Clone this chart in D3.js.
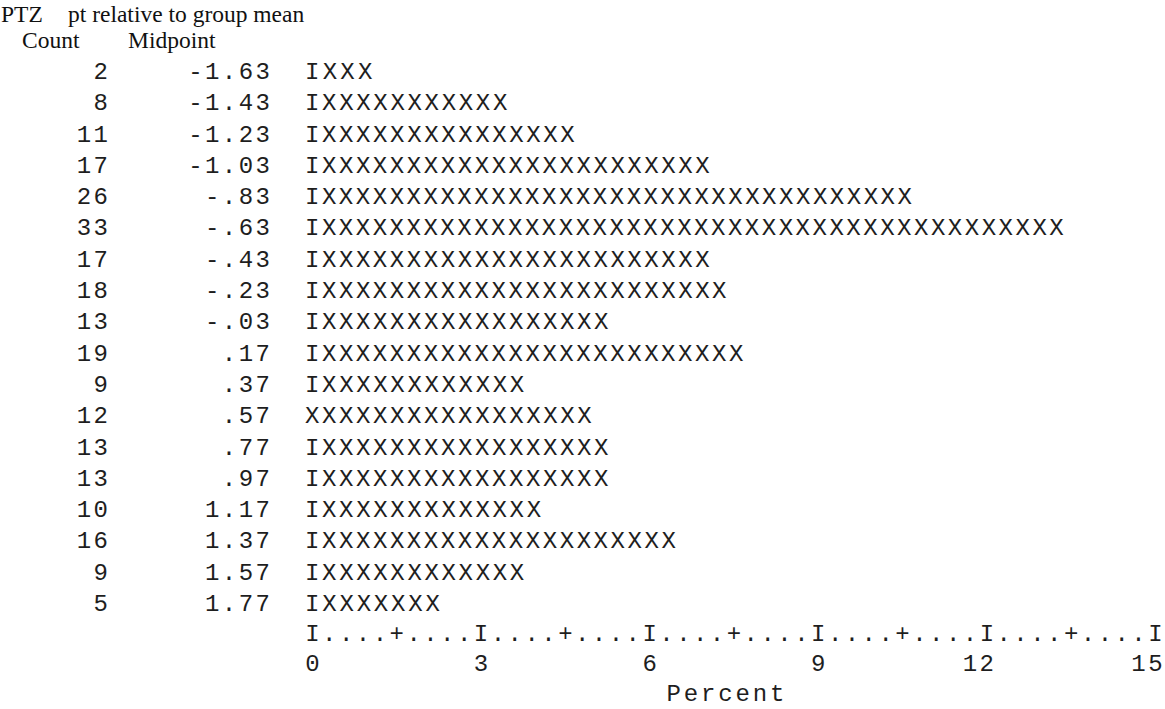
<!DOCTYPE html>
<html>
<head>
<meta charset="utf-8">
<script src="https://cdn.jsdelivr.net/npm/d3@7"></script>
<style>
  body { margin: 0; background: #fff; }
  .mono { font-family: "Liberation Mono", "DejaVu Sans Mono", monospace; font-size: 24px; fill: #1e1e1e; }
  .spaced { letter-spacing: 2.46px; }
  .serif { font-family: "Liberation Serif", "DejaVu Serif", serif; font-size: 23.5px; fill: #111; }
</style>
</head>
<body>
<div id="chart"></div>
<script>
// datos del histograma (salida de texto tipo SPSS)
var midpoints = ["-1.63", "-1.43", "-1.23", "-1.03", "-.83", "-.63", "-.43", "-.23", "-.03",
                 ".17", ".37", ".57", ".77", ".97", "1.17", "1.37", "1.57", "1.77"];
var counts = [2, 8, 11, 17, 26, 33, 17, 18, 13, 19, 9, 12, 13, 13, 10, 16, 9, 5];
// primer caracter de cada barra (en la fila .57 el original sale con X)
var leadChars = ["I","I","I","I","I","I","I","I","I","I","I","X","I","I","I","I","I","I"];
var tickValues = [0, 3, 6, 9, 12, 15];
var minorValues = [1.5, 4.5, 7.5, 10.5, 13.5];
var varName = "PTZ";
var varLabel = "pt relative to group mean";
var xTitle = "Percent";

var width = 1165, height = 709;
var cellW = 16.86;       // ancho de cada caracter
var x0 = 304;            // borde izquierdo de la primera columna de barras
var step = 0.3;          // porcentaje que vale cada caracter
var ls = 2.46;           // espaciado extra entre letras

var total = d3.sum(counts);

// escala x: porcentaje -> centro de la columna de caracteres
var x = d3.scaleLinear().domain([0, 15]).range([x0 + cellW / 2, x0 + 50 * cellW + cellW / 2]);
// escala y: una fila por punto medio
var y = d3.scalePoint().domain(midpoints).range([79, 611]);

var svg = d3.select("#chart").append("svg")
  .attr("width", width)
  .attr("height", height);

// cabecera
svg.append("text").attr("class", "serif").attr("x", 1).attr("y", 22).text(varName);
svg.append("text").attr("class", "serif").attr("x", 68).attr("y", 22).text(varLabel);
svg.append("text").attr("class", "serif").attr("x", 22).attr("y", 48).text("Count");
svg.append("text").attr("class", "serif").attr("x", 128).attr("y", 48).text("Midpoint");

var rows = midpoints.map(function(m, i) {
  return { mid: m, count: counts[i], lead: leadChars[i], pct: counts[i] / total * 100 };
});

var g = svg.append("g");

// columna de frecuencias
g.selectAll(".count").data(rows).enter().append("text")
  .attr("class", "mono spaced count")
  .attr("x", 108 + ls)
  .attr("y", function(d) { return y(d.mid); })
  .attr("text-anchor", "end")
  .text(function(d) { return d.count; });

// columna de puntos medios
g.selectAll(".mid").data(rows).enter().append("text")
  .attr("class", "mono spaced mid")
  .attr("x", 270 + ls)
  .attr("y", function(d) { return y(d.mid); })
  .attr("text-anchor", "end")
  .text(function(d) { return d.mid; });

// barras hechas de X
g.selectAll(".bar").data(rows).enter().append("text")
  .attr("class", "mono bar")
  .attr("x", x0 + 1)
  .attr("y", function(d) { return y(d.mid); })
  .each(function(d) {
    var n = Math.round((x(d.pct) - x(0)) / cellW);
    d3.select(this)
      .attr("textLength", (n + 1) * cellW)
      .attr("lengthAdjust", "spacing")
      .text(d.lead + "X".repeat(n));
  });

// eje de texto I....+....I
var axisY = 641;
var axisChars = d3.range(0, 51).map(function(i) {
  var v = +(i * step).toFixed(2);
  var c = ".";
  if (tickValues.indexOf(v) > -1) c = "I";
  else if (minorValues.indexOf(v) > -1) c = "+";
  return { v: v, c: c };
});
svg.append("g").selectAll("text").data(axisChars).enter().append("text")
  .attr("class", "mono")
  .attr("x", function(d) { return x(d.v); })
  .attr("y", axisY)
  .attr("text-anchor", "middle")
  .text(function(d) { return d.c; });

// etiquetas del eje alineadas a la derecha con su I
svg.append("g").selectAll("text").data(tickValues).enter().append("text")
  .attr("class", "mono spaced")
  .attr("x", function(d) { return x(d) + cellW / 2 + ls / 2; })
  .attr("y", axisY + 30)
  .attr("text-anchor", "end")
  .text(function(d) { return d; });

// titulo del eje
svg.append("text").attr("class", "mono")
  .attr("x", x0 + 21.5 * cellW)
  .attr("y", axisY + 60)
  .attr("textLength", 7 * cellW)
  .attr("lengthAdjust", "spacing")
  .text(xTitle);
</script>
</body>
</html>
